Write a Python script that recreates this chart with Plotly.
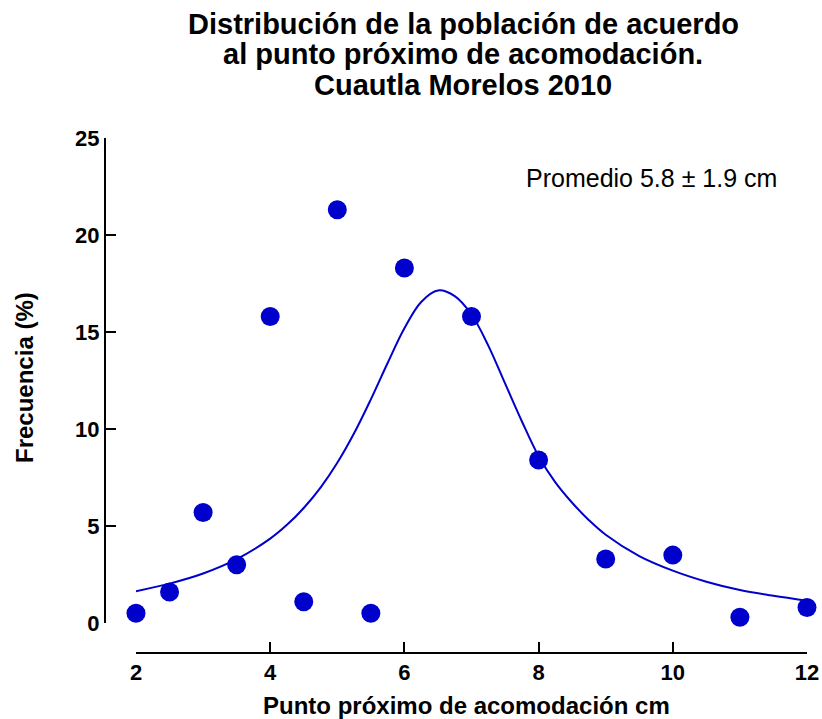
import plotly.graph_objects as go

# Measured frequencies (%) by near point of accommodation (cm)
punto_cm = [2, 2.5, 3, 3.5, 4, 4.5, 5, 5.5, 6, 7, 8, 9, 10, 11, 12]
frecuencia = [0.5, 1.6, 5.7, 3.0, 15.8, 1.1, 21.3, 0.5, 18.3, 15.8, 8.4, 3.3, 3.5, 0.3, 0.8]

# Fitted distribution curve, sampled along x
ajuste_x = [2, 2.5, 3, 3.5, 4, 4.25, 4.5, 4.75, 5, 5.25, 5.5, 5.75, 6, 6.25, 6.5, 6.75,
            7, 7.25, 7.5, 7.75, 8, 8.25, 8.5, 8.75, 9, 9.5, 10, 10.5, 11, 11.5, 12]
ajuste_y = [1.64, 2.03, 2.55, 3.29, 4.35, 5.06, 5.93, 6.98, 8.26, 9.78, 11.53, 13.4, 15.19, 16.55,
            17.14, 16.85, 15.9, 14.3, 12.35, 10.4, 8.6, 7.25, 6.2, 5.3, 4.55, 3.45, 2.7, 2.13,
            1.7, 1.4, 1.15]

x_ticks = [2, 4, 6, 8, 10, 12]
y_ticks = [0, 5, 10, 15, 20, 25]

titulo = ["Distribución de la población de acuerdo",
          "al punto próximo de acomodación.",
          "Cuautla Morelos 2010"]
nota = "Promedio 5.8 ± 1.9 cm"

W, H = 822, 719
BLUE = "#0000CC"
FONT = "Liberation Sans"


def fx(px):
    return px / W


def fy(py):
    return 1 - py / H


fig = go.Figure()
fig.add_trace(go.Scatter(
    x=ajuste_x, y=ajuste_y, mode="lines",
    line=dict(color=BLUE, width=2, shape="spline", smoothing=1.0),
    hoverinfo="skip", cliponaxis=False,
))
fig.add_trace(go.Scatter(
    x=punto_cm, y=frecuencia, mode="markers",
    marker=dict(color=BLUE, size=19, line=dict(width=0)), cliponaxis=False,
))

axis_common = dict(
    showgrid=False, zeroline=False, showline=True, linecolor="black", linewidth=2,
    ticks="inside", ticklen=10, tickwidth=2, tickcolor="black",
    tickfont=dict(family=FONT, size=22, color="black", weight="bold"),
    automargin=False,
)

fig.update_layout(
    width=W, height=H,
    margin=dict(l=0, r=0, t=0, b=0),
    paper_bgcolor="white", plot_bgcolor="white",
    showlegend=False,
    xaxis=dict(range=[2, 12], domain=[fx(136), fx(807)], anchor="free", position=fy(653),
               tickvals=x_ticks, **axis_common),
    yaxis=dict(range=[0, 25], domain=[fy(623), fy(138)], anchor="free", position=fx(105),
               tickvals=y_ticks, **axis_common),
)

annotations = []
for i, linea in enumerate(titulo):
    annotations.append(dict(
        text=linea, x=fx(463), y=fy(24 + 30.5 * i), xref="paper", yref="paper",
        xanchor="center", yanchor="middle", showarrow=False,
        font=dict(family=FONT, size=29, color="black", weight="bold"),
    ))
annotations.append(dict(
    text=nota, x=fx(651), y=fy(178), xref="paper", yref="paper",
    xanchor="center", yanchor="middle", showarrow=False,
    font=dict(family=FONT, size=25, color="black"),
))
annotations.append(dict(
    text="Punto próximo de acomodación cm", x=fx(466), y=fy(705), xref="paper", yref="paper",
    xanchor="center", yanchor="middle", showarrow=False,
    font=dict(family=FONT, size=24, color="black", weight="bold"),
))
annotations.append(dict(
    text="Frecuencia (%)", x=fx(25), y=fy(378), xref="paper", yref="paper",
    xanchor="center", yanchor="middle", showarrow=False, textangle=-90,
    font=dict(family=FONT, size=24, color="black", weight="bold"),
))
fig.update_layout(annotations=annotations)

fig.write_html("out.html")
